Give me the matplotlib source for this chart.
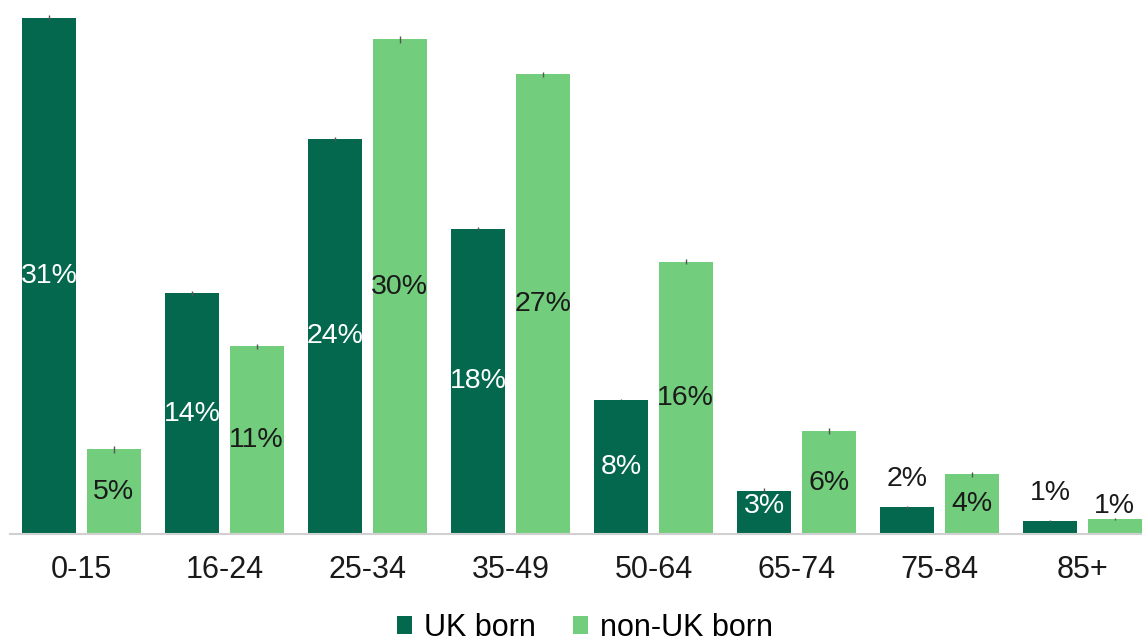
import matplotlib
matplotlib.use("Agg")
import matplotlib.pyplot as plt
import numpy as np

categories = ["0-15", "16-24", "25-34", "35-49", "50-64", "65-74", "75-84", "85+"]
uk_born = [31.1, 14.5, 23.8, 18.4, 8.1, 2.6, 1.6, 0.8]
non_uk_born = [5.1, 11.3, 29.8, 27.7, 16.4, 6.2, 3.6, 0.9]
uk_labels = ["31%", "14%", "24%", "18%", "8%", "3%", "2%", "1%"]
non_uk_labels = ["5%", "11%", "30%", "27%", "16%", "6%", "4%", "1%"]
uk_err = [0.15, 0.15, 0.1, 0.1, 0.05, 0.15, 0.1, 0.05]
non_uk_err = [0.2, 0.15, 0.2, 0.15, 0.15, 0.2, 0.15, 0.05]

dark = "#03684D"
light = "#72CD7D"

plt.rcParams['font.family'] = ['Liberation Sans', 'DejaVu Sans']

fig = plt.figure(figsize=(11.42, 6.41), dpi=100)
ax = fig.add_axes([10/1142, 1 - 534/641, 1132/1142, 534/641])

x = np.arange(len(categories))
w = 0.38
off = 0.225
b1 = ax.bar(x - off, uk_born, w, color=dark, label="UK born", zorder=2)
b2 = ax.bar(x + off, non_uk_born, w, color=light, label="non-UK born", zorder=2)
ax.errorbar(x - off, uk_born, yerr=uk_err, fmt='none', ecolor='#555555', elinewidth=1, capsize=0, zorder=3)
ax.errorbar(x + off, non_uk_born, yerr=non_uk_err, fmt='none', ecolor='#555555', elinewidth=1, capsize=0, zorder=3)

ax.set_xlim(-0.5, -0.5 + 1132/143)
ax.set_ylim(0, 534/16.6)

fs = 20.5
tfs = 22
for xi, v, lab in zip(x - off, uk_born, uk_labels):
    if v >= 2.5:
        ax.text(xi, v/2 + (0.4 if v < 4 else 0), lab, ha='center', va='center', color='white', fontsize=fs, zorder=4)
    else:
        ax.annotate(lab, (xi, v), xytext=(0, 28*0.72), textcoords='offset points',
                    ha='center', va='center', color='#1a1a1a', fontsize=fs, zorder=4)
for xi, v, lab in zip(x + off, non_uk_born, non_uk_labels):
    if v >= 2.5:
        ax.text(xi, v/2, lab, ha='center', va='center', color='#1a1a1a', fontsize=fs, zorder=4)
    else:
        ax.annotate(lab, (xi, v), xytext=(0, 13*0.72), textcoords='offset points',
                    ha='center', va='center', color='#1a1a1a', fontsize=fs, zorder=4)

for s in ['top', 'right', 'left']:
    ax.spines[s].set_visible(False)
ax.spines['bottom'].set_color('#d0d0d0')
ax.spines['bottom'].set_linewidth(1.5)
ax.set_yticks([])
ax.set_xticks(x)
ax.set_xticklabels(categories, fontsize=tfs, color='#1a1a1a')
ax.tick_params(axis='x', length=0, pad=15)

fig.legend(handles=[b1, b2], loc='center', bbox_to_anchor=(585/1142, 1 - 628/641),
           ncol=2, frameon=False, fontsize=tfs, handlelength=0.5, handleheight=0.5,
           handletextpad=0.4, columnspacing=1.2, borderpad=0)

fig.savefig("out.png", dpi=100)
